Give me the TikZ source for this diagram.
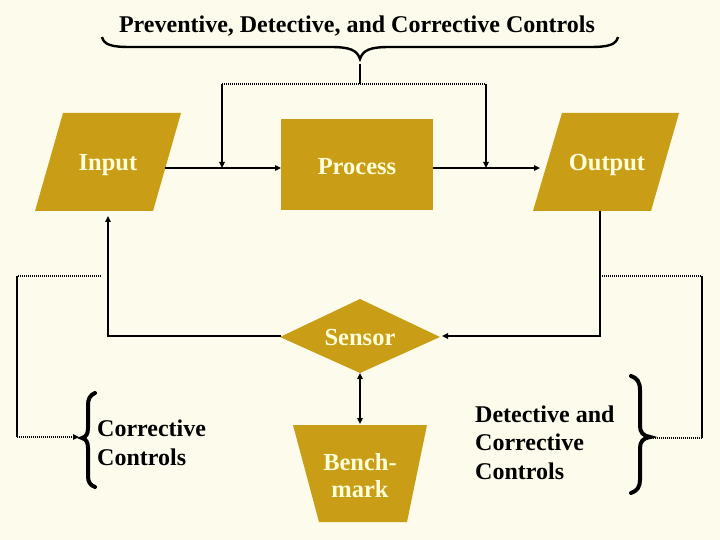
\documentclass[tikz,border=0pt]{standalone}
\usepackage{fontspec}
\setmainfont{Liberation Serif}
\usetikzlibrary{arrows.meta}
\definecolor{bg}{RGB}{253,252,236}
\definecolor{gold}{RGB}{202,157,22}
\definecolor{cream}{RGB}{255,255,218}
\begin{document}
\begin{tikzpicture}[x=1pt,y=-1pt,
  >={Triangle[length=6pt,width=5.5pt]},
  lbl/.style={font=\fontsize{24.5}{27}\selectfont\bfseries, text=cream, inner sep=0pt, align=center},
  blk/.style={font=\fontsize{24}{28.5}\selectfont\bfseries, text=black, inner sep=0pt, align=left},
  conn/.style={line width=2.5pt},
  dotline/.style={line width=1.8pt, dash pattern=on 1pt off 1pt},
  brace/.style={line width=4pt, line cap=round},
  shapefill/.style={fill=gold}]
\fill[bg] (0,0) rectangle (720,540);
\useasboundingbox (0,0) rectangle (720,540);

% title and top brace
\node[font=\fontsize{24}{28}\selectfont\bfseries, anchor=base] (title) at (357,33) {Preventive, Detective, and Corrective Controls};
\draw[line width=2.4pt] (102,37) .. controls (104,45) and (112,47) .. (130,47) -- (330,47)
  .. controls (350,47) and (357,50) .. (360,59)
  .. controls (363,50) and (370,47) .. (390,47) -- (590,47)
  .. controls (608,47) and (616,45) .. (618,37);
\coordinate (bt) at (360,64);

% shapes
\fill[shapefill] (63,113) -- (181,113) -- (153,211) -- (35,211) -- cycle;
\node[lbl, anchor=base] (input) at (108,171) {Input};
\fill[shapefill] (281,119) rectangle (433,210);
\node[lbl, anchor=base] (process) at (357,175) {Process};
\fill[shapefill] (562,113) -- (679,113) -- (651,211) -- (533,211) -- cycle;
\node[lbl, anchor=base] (output) at (607,171) {Output};
\fill[shapefill] (360,299) -- (440,337) -- (360,373) -- (280,337) -- cycle;
\node[lbl, anchor=base] (sensor) at (360,345) {Sensor};
\fill[shapefill] (293,425) -- (427,425) -- (407,522) -- (319,522) -- cycle;
\node[lbl, anchor=base] (bench) at (360,497) {Bench-\\mark};

% connection points
\coordinate (inR) at (165,168);
\coordinate (procL) at (281,168);
\coordinate (procR) at (433,168);
\coordinate (outL) at (540,168);
\coordinate (j1) at (222,168);
\coordinate (j2) at (486,168);
\coordinate (d1) at (222,84);
\coordinate (d2) at (486,84);
\coordinate (dm) at (360,84);
\coordinate (inB) at (108,216);
\coordinate (c1) at (108,336);
\coordinate (sensL) at (281,336);
\coordinate (sensR) at (442,336);
\coordinate (outB) at (600,211);
\coordinate (c2) at (600,336);
\coordinate (sensB) at (360,373);
\coordinate (benchT) at (360,424);
\coordinate (l1) at (101,276);
\coordinate (l2) at (17,276);
\coordinate (l3) at (17,437);
\coordinate (lb) at (79,437);
\coordinate (r1) at (600,276);
\coordinate (r2) at (702,276);
\coordinate (r3) at (702,438);
\coordinate (rb) at (651,438);

% connectors
\draw[conn,->] (inR) -- (procL);
\draw[conn,->] (procR) -- (outL);
\draw[conn] (bt) -- (dm);
\draw[dotline] (d1) -- (d2);
\draw[conn,->] (d1) -- (j1);
\draw[conn,->] (d2) -- (j2);
\draw[conn,->] (sensL) -- (c1) -- (inB);
\draw[conn,->] (outB) -- (c2) -- (sensR);
\draw[conn,<->] (sensB) -- (benchT);
\draw[dotline] (l1) -- (l2);
\draw[conn] (l2) -- (l3);
\draw[dotline,->] (l3) -- (lb);
\draw[dotline] (r1) -- (r2);
\draw[conn] (r2) -- (r3);
\draw[dotline] (r3) -- (rb);

% side braces
\draw[brace] (95,393) .. controls (90,395) and (88,399) .. (88,405) -- (88,428)
  .. controls (88,434) and (86,437) .. (82,438)
  .. controls (86,439) and (88,442) .. (88,448) -- (88,476)
  .. controls (88,482) and (90,485) .. (95,487);
\draw[brace] (631,376) .. controls (637,378) and (640,382) .. (640,390) -- (640,426)
  .. controls (640,432) and (643,436) .. (650,437)
  .. controls (643,438) and (640,442) .. (640,448) -- (640,480)
  .. controls (640,487) and (637,491) .. (631,493);

% side texts
\node[blk, anchor=base west] (corr) at (97,465) {Corrective\\Controls};
\node[blk, anchor=base west] (detcorr) at (475,479) {Detective and\\Corrective\\Controls};
\end{tikzpicture}
\end{document}
